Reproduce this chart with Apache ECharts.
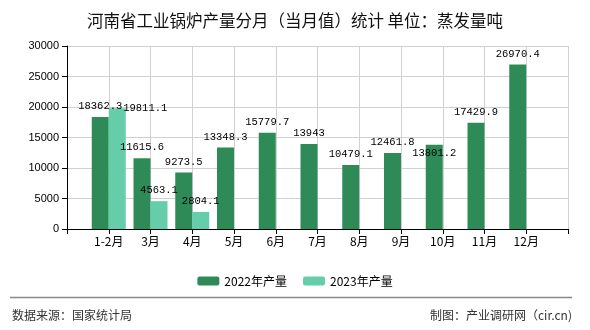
<!DOCTYPE html>
<html>
<head>
<meta charset="utf-8">
<script src="https://cdn.jsdelivr.net/npm/echarts@6/dist/echarts.min.js"></script>
<style>html,body{margin:0;padding:0;background:#fff}#c{width:590px;height:330px}</style>
</head>
<body>
<div id="c"></div>
<script>
const titleText = '河南省工业锅炉产量分月（当月值）统计 单位：蒸发量吨';
const categories = ['1-2月','3月','4月','5月','6月','7月','8月','9月','10月','11月','12月'];
const seriesNames = ['2022年产量','2023年产量'];
const values2022 = [18362.3, 11615.6, 9273.5, 13348.3, 15779.7, 13943, 10479.1, 12461.8, 13801.2, 17429.9, 26970.4];
const values2023 = [19811.1, 4563.1, 2804.1, null, null, null, null, null, null, null, null];
const yTicks = [0, 5000, 10000, 15000, 20000, 25000, 30000];
const sourceText = '数据来源：国家统计局';
const makerText = '制图：产业调研网（cir.cn)';

// label nudges (style only)
const labelNudge2022 = {8: [0, 19]};
const labelNudge2023 = {0: [28, 11]};

function build(vals, nudge) {
  const out = ['-'];
  vals.forEach((v, i) => {
    if (v === null) { out.push('-'); return; }
    const item = {value: v};
    if (nudge[i]) item.label = {offset: nudge[i]};
    out.push(item);
  });
  out.push('-');
  return out;
}

const axisCats = [''].concat(categories, ['']);
const chart = echarts.init(document.getElementById('c'));
const labelStyle = {show: true, position: 'top', distance: 5, fontFamily: 'Liberation Mono', fontSize: 10.5, color: '#000'};
chart.setOption({
  animation: false,
  title: {text: titleText, left: 'center', top: 7, textStyle: {fontFamily: 'Noto Sans CJK SC', fontSize: 16.5, fontWeight: 'normal', color: '#111'}},
  legend: {
    data: seriesNames, top: 270, left: 'center', itemWidth: 22, itemHeight: 9, itemGap: 16,
    textStyle: {fontFamily: 'Noto Sans CJK SC', fontSize: 12, color: '#000'}
  },
  grid: {left: 67, right: 22, top: 46, bottom: 101, containLabel: false},
  xAxis: {
    type: 'category', data: axisCats, boundaryGap: false,
    axisLine: {lineStyle: {color: '#000', width: 1}},
    axisTick: {show: true, interval: 0, length: 5, lineStyle: {color: '#000'}},
    axisLabel: {interval: 0, fontFamily: 'Noto Sans CJK SC', fontSize: 12, color: '#000', margin: 6},
    splitLine: {show: true, interval: 0, lineStyle: {color: '#d0d0d0'}}
  },
  yAxis: {
    type: 'value', min: yTicks[0], max: yTicks[yTicks.length - 1], interval: yTicks[1] - yTicks[0],
    axisLine: {show: true, lineStyle: {color: '#000'}},
    axisTick: {show: true, length: 5, lineStyle: {color: '#000'}},
    axisLabel: {fontFamily: 'Liberation Sans', fontSize: 11, color: '#000', margin: 8, formatter: v => String(v)},
    splitLine: {show: true, lineStyle: {color: '#d0d0d0'}}
  },
  series: [
    {name: seriesNames[0], type: 'bar', data: build(values2022, labelNudge2022), barWidth: 17, barGap: '0%',
     itemStyle: {color: '#2e8b57'}, label: labelStyle},
    {name: seriesNames[1], type: 'bar', data: build(values2023, labelNudge2023), barWidth: 17, barGap: '0%',
     itemStyle: {color: '#66cdaa'}, label: labelStyle}
  ],
  graphic: [
    {type: 'line', shape: {x1: 10, y1: 297.5, x2: 572, y2: 297.5}, style: {stroke: '#888', lineWidth: 1.5}},
    {type: 'text', left: 12, top: 309, style: {text: sourceText, font: '12px "Noto Sans CJK SC"', fill: '#333'}},
    {type: 'text', right: 18, top: 309, style: {text: makerText, font: '12px "Noto Sans CJK SC"', fill: '#333'}}
  ]
});
</script>
</body>
</html>
